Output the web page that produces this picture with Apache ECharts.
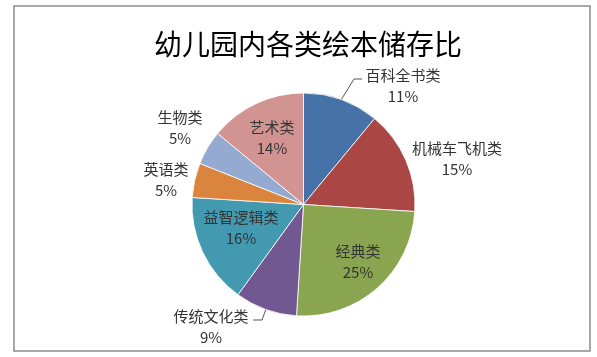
<!DOCTYPE html>
<html>
<head>
<meta charset="utf-8">
<script src="https://cdn.jsdelivr.net/npm/echarts@6/dist/echarts.min.js"></script>
<style>
html,body{margin:0;padding:0;background:#fff;}
#chart{width:597px;height:357px;}
</style>
</head>
<body>
<div id="chart"></div>
<script>
var titleText = '幼儿园内各类绘本储存比';
var categories = ['百科全书类', '机械车飞机类', '经典类', '传统文化类', '益智逻辑类', '英语类', '生物类', '艺术类'];
var values = [11, 15, 25, 9, 16, 5, 5, 14];

var colors = ['#4672A8', '#AA4644', '#8AA54F', '#725891', '#4299B0', '#DB843D', '#94AAD0', '#D29493'];
// label anchor layout (centre of the two-line label)
var labelAnchors = [[403, 86], [457, 159], [358, 262], [211, 327], [241, 228], [166, 180], [180, 128], [272, 138]];
var leaderLines = {
  0: [[341, 100], [354, 79], [362, 79]],
  3: [[267, 306], [262, 320], [253, 320]]
};

var chart = echarts.init(document.getElementById('chart'));
var data = categories.map(function (c, i) {
  return {
    name: c,
    value: values[i],
    itemStyle: { color: colors[i] },
    labelLine: { show: !!leaderLines[i] }
  };
});

chart.setOption({
  animation: false,
  title: {
    text: titleText,
    left: 303, top: 25,
    textAlign: 'center',
    textStyle: { fontSize: 28, fontWeight: 'normal', color: '#000', fontFamily: 'Noto Sans CJK SC' }
  },
  graphic: [{
    type: 'rect', silent: true,
    shape: { x: 14, y: 6, width: 576, height: 345 },
    style: { fill: 'none', stroke: '#8c8c8c', lineWidth: 1.5 }
  }],
  series: [{
    type: 'pie',
    center: [303.5, 204.5],
    radius: 111.5,
    startAngle: 90,
    clockwise: true,
    avoidLabelOverlap: false,
    itemStyle: { borderColor: '#fff', borderWidth: 0.8 },
    label: {
      show: true,
      position: 'outside',
      formatter: function (p) { return p.name + '\n' + p.value + '%'; },
      fontSize: 15,
      lineHeight: 21,
      color: '#333',
      fontFamily: 'Noto Sans CJK SC',
      align: 'center'
    },
    labelLine: { lineStyle: { color: '#555', width: 1 }, length: 10, length2: 8 },
    labelLayout: function (params) {
      var i = params.dataIndex;
      var a = labelAnchors[i];
      var res = { x: a[0], y: a[1], align: 'center', verticalAlign: 'middle' };
      if (leaderLines[i]) res.labelLinePoints = leaderLines[i];
      return res;
    },
    data: data
  }]
});
</script>
</body>
</html>
